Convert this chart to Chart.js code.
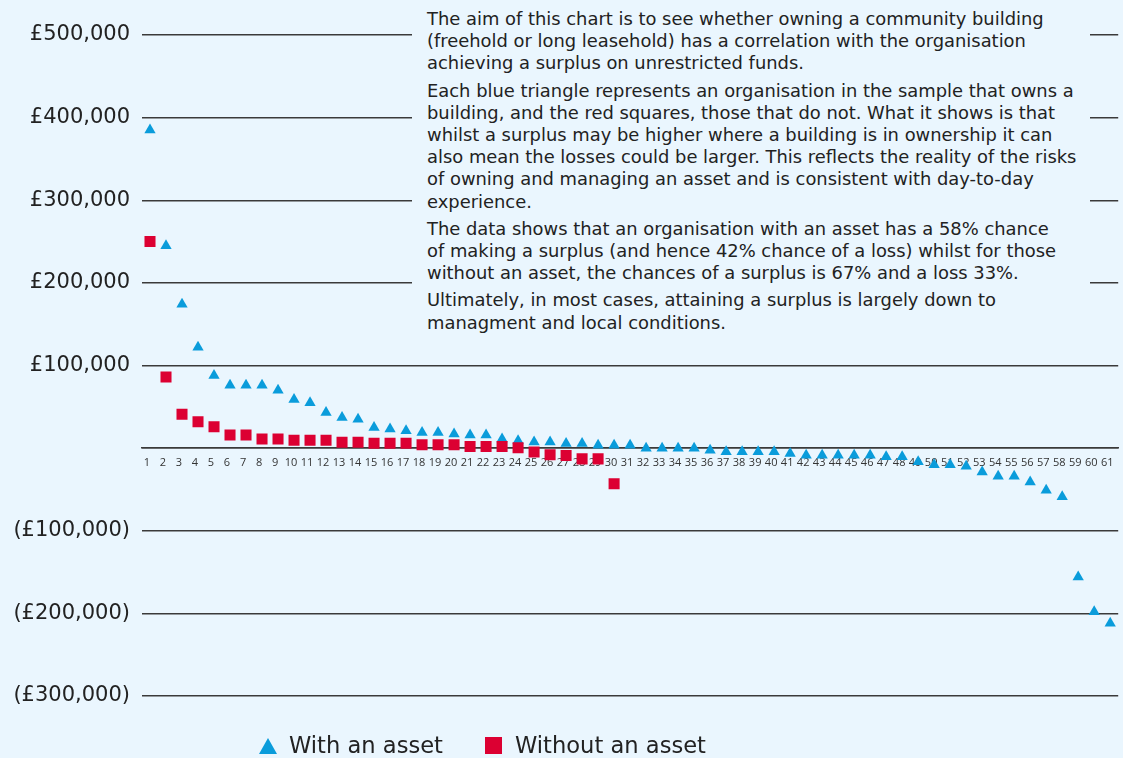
<!DOCTYPE html>
<html><head><meta charset="utf-8">
<script src="https://cdn.jsdelivr.net/npm/chart.js@4/dist/chart.umd.min.js"></script>
<style>
html,body{margin:0;padding:0;background:#EAF6FE;overflow:hidden;}
#wrap{position:relative;width:1123px;height:758px;background:#EAF6FE;overflow:hidden;}
#c{position:absolute;left:0;top:0;}
#note{position:absolute;left:412px;top:8px;width:678px;height:326px;background:#EAF6FE;
 font-family:"DejaVu Sans",sans-serif;font-size:17.9px;line-height:22.2px;color:#222;padding-left:15px;box-sizing:border-box;}
#note p{margin:0 0 5px 0;white-space:nowrap;}
#legend{position:absolute;top:732px;left:259px;font-family:"DejaVu Sans",sans-serif;font-size:22.6px;color:#222;white-space:nowrap;}
.tri{display:inline-block;width:0;height:0;border-left:9px solid transparent;border-right:9px solid transparent;border-bottom:16px solid #0A9CDB;vertical-align:-1px;margin-right:12px;}
.sq{display:inline-block;width:17px;height:17px;background:#DC0032;vertical-align:-1px;margin-right:13px;margin-left:42px;}
</style></head>
<body><div id="wrap">
<canvas id="c" width="1126" height="758"></canvas>
<div id="note">
<p>The aim of this chart is to see whether owning a community building<br>(freehold or long leasehold) has a correlation with the organisation<br>achieving a surplus on unrestricted funds.</p>
<p>Each blue triangle represents an organisation in the sample that owns a<br>building, and the red squares, those that do not. What it shows is that<br>whilst a surplus may be higher where a building is in ownership it can<br>also mean the losses could be larger. This reflects the reality of the risks<br>of owning and managing an asset and is consistent with day-to-day<br>experience.</p>
<p>The data shows that an organisation with an asset has a 58% chance<br>of making a surplus (and hence 42% chance of a loss) whilst for those<br>without an asset, the chances of a surplus is 67% and a loss 33%.</p>
<p>Ultimately, in most cases, attaining a surplus is largely down to<br>managment and local conditions.</p>
</div>
<div id="legend"><span class="tri"></span>With an asset<span class="sq"></span>Without an asset</div>
</div>
<script>
const categories = Array.from({length:61},(_,i)=>String(i+1));
const withAsset = [385000,245000,174000,122000,88000,76000,76000,76000,70000,59000,
 55000,43000,37000,35000,25000,23000,21000,19000,19000,17000,
 16000,16000,11000,9000,7500,7500,5500,5500,3500,3500,
 3500,0,0,0,0,-2500,-4500,-4500,-4500,-4500,
 -6500,-8500,-8500,-8500,-8500,-8500,-10500,-10500,-16500,-20000,
 -20000,-22000,-29000,-34000,-34000,-41000,-51000,-59000,-156000,-198000,-212000];
const withoutAsset = [250000,86000,41000,32000,26000,16000,16000,11000,11000,9500,
 9500,9500,7000,7000,6000,6000,6000,4000,4000,4000,
 2000,2000,2000,500,-4600,-8000,-9000,-13000,-13000,-43000];
const yTicks = [-300000,-200000,-100000,0,100000,200000,300000,400000,500000];

function fmt(v){const a=Math.abs(v).toLocaleString('en-GB');return v===0?'':(v>0?'£'+a:'(£'+a+')');}

new Chart(document.getElementById('c'),{
 type:'line',
 data:{labels:categories,datasets:[
  {label:'Without an asset',data:withoutAsset,showLine:false,pointStyle:'rect',pointRadius:7.8,pointHoverRadius:7.8,
   backgroundColor:'#DC0032',borderColor:'#DC0032',borderWidth:0},
  {label:'With an asset',data:withAsset,showLine:false,pointStyle:'triangle',pointRadius:6.5,pointHoverRadius:6.5,
   backgroundColor:'#0A9CDB',borderColor:'#0A9CDB',borderWidth:0}
 ]},
 options:{responsive:false,animation:false,
  layout:{padding:{top:35,bottom:62,right:0,left:0}},
  plugins:{legend:{display:false},tooltip:{enabled:false}},
  scales:{
   x:{type:'category',offset:true,position:{y:0},
      grid:{display:false,drawTicks:false},border:{display:true,color:'#3a3a3a',width:1.5},
      ticks:{color:'#333',font:{family:'Open Sans',size:11},padding:8,labelOffset:-3,autoSkip:false,maxRotation:0}},
   y:{min:-300000,max:500000,afterBuildTicks:s=>{s.ticks=yTicks.map(v=>({value:v}));},
      afterFit:s=>{s.width=142;},
      grid:{color:'#3a3a3a',lineWidth:1.5,drawTicks:false},border:{display:false},
      ticks:{color:'#222',font:{family:'DejaVu Sans',size:21},padding:12,callback:v=>fmt(v)}}
  }}
});
</script>
</body></html>
